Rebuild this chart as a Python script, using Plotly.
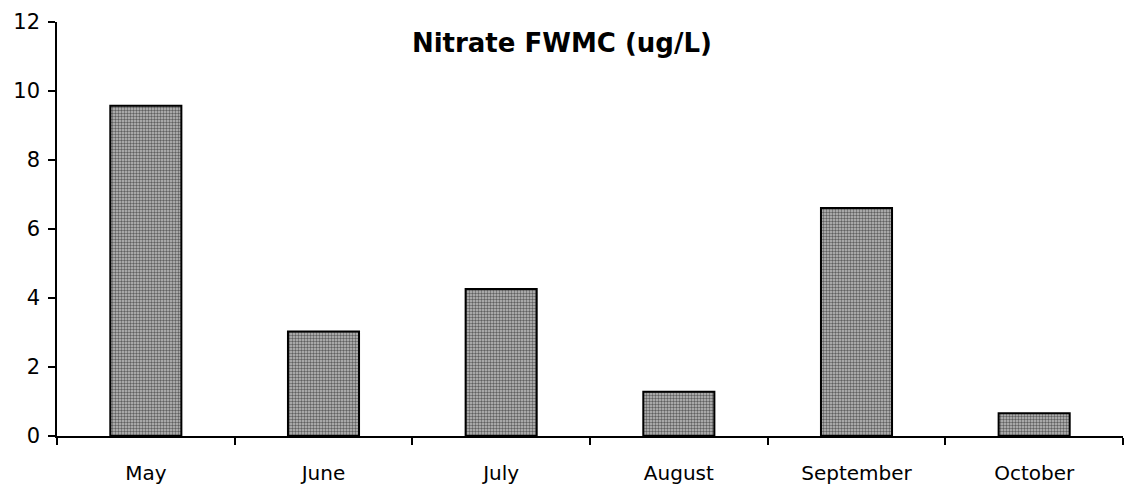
import plotly.graph_objects as go

# Monthly nitrate flow-weighted mean concentration
months = ["May", "June", "July", "August", "September", "October"]
nitrate_fwmc = [9.57, 3.03, 4.26, 1.28, 6.61, 0.66]
y_ticks = [0, 2, 4, 6, 8, 10, 12]

FONT = "DejaVu Sans, Liberation Sans, Arial, sans-serif"

fig = go.Figure(
    go.Bar(
        x=months,
        y=nitrate_fwmc,
        marker=dict(
            color="#b0b0b0",
            line=dict(color="#000000", width=2),
            pattern=dict(shape=".", size=3, solidity=0.5,
                         fgcolor="#606060", bgcolor="#c0c0c0", fillmode="replace"),
        ),
        width=0.4,
    )
)

fig.update_layout(
    width=1126,
    height=490,
    margin=dict(l=57, r=3, t=22, b=54),
    paper_bgcolor="white",
    plot_bgcolor="white",
    showlegend=False,
    font=dict(family=FONT, size=20, color="#000000"),
    title=dict(
        text="<b>Nitrate FWMC (ug/L)</b>",
        x=0.499, xref="container", xanchor="center",
        y=0.912, yref="container", yanchor="middle",
        font=dict(family=FONT, size=26, color="#000000"),
    ),
)

fig.update_xaxes(
    range=[-0.5, 5.5],
    tickfont=dict(family=FONT, size=20),
    showline=True, linecolor="#000000", linewidth=1.5,
    ticks="outside", tickson="boundaries", ticklen=7, tickcolor="#000000", tickwidth=1.5,
    ticklabelstandoff=18,
    showgrid=False, zeroline=False,
)

fig.update_yaxes(
    range=[0, 12],
    tickvals=y_ticks,
    tickfont=dict(family=FONT, size=21),
    showline=True, linecolor="#000000", linewidth=1.5,
    ticks="outside", ticklen=7, tickcolor="#000000", tickwidth=1.5,
    ticklabelstandoff=4,
    showgrid=False, zeroline=False,
)

fig.write_html("out.html")
